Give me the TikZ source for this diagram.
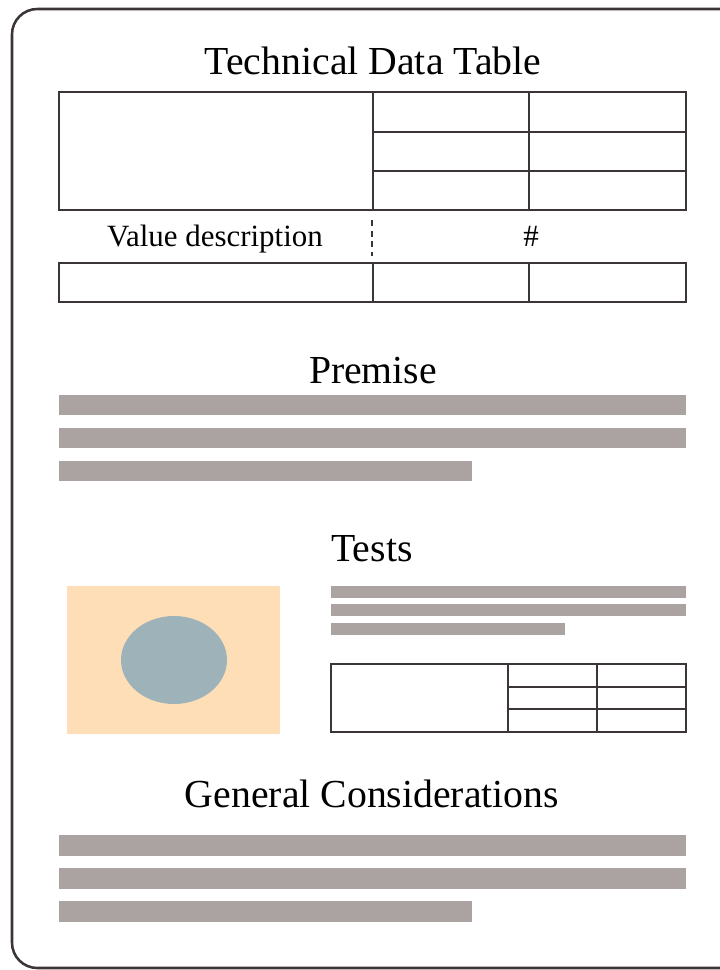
\documentclass[tikz,border=0pt]{standalone}
\usepackage{fontspec}
\setmainfont{Liberation Serif}
\usetikzlibrary{calc}
\definecolor{ccLine}{HTML}{3B3536}
\definecolor{ccBar}{HTML}{ABA3A1}
\definecolor{ccImg}{HTML}{FDDEB6}
\definecolor{ccDot}{HTML}{9EB3B9}

\begin{document}
\begin{tikzpicture}[
  x=0.75pt, y=-0.75pt,
  grid/.style={draw=ccLine, line width=1.9pt},
  bar/.style={fill=ccBar},
  head/.style={font=\fontsize{29.8}{34}\selectfont, anchor=base, inner sep=0pt},
  lbl/.style={font=\fontsize{23.2}{26}\selectfont, anchor=base, inner sep=0pt},
]
\useasboundingbox (0,0) rectangle (720,970);
% page frame (right edge runs off the page)
\draw[ccLine, line width=1.9pt, rounded corners=19pt] (12,9) rectangle (745,968);
% technical data table
\node[head] (ttl) at (373,75) {Technical Data Table};
\draw[grid] (59,92) rectangle (686,210);
\draw[grid] (373,92) -- (373,210) (529,92) -- (529,210)
  (373,132) -- (686,132) (373,171) -- (686,171);
\node[lbl] (vdesc) at (215,246) {Value description};
\node[lbl] (hash) at (531,246) {\#};
\draw[ccLine, line width=1.9pt, dash pattern=on 4.5pt off 3.5pt] (372,220) -- (372,256);
\draw[grid] (59,263) rectangle (686,302);
\draw[grid] (373,263) -- (373,302) (529,263) -- (529,302);
% premise
\node[head] (prem) at (373,383) {Premise};
\foreach \y in {395,428} \fill[bar] (59,\y) rectangle (686,\y+20);
\fill[bar] (59,461) rectangle (472,481);
% tests
\node[head] (tst) at (372,561) {Tests};
\fill[ccImg] (67,586) rectangle (280,734);
\fill[ccDot] (174,660) ellipse [x radius=53, y radius=44];
\foreach \y in {586,604} \fill[bar] (331,\y) rectangle (686,\y+12);
\fill[bar] (331,623) rectangle (565,635);
\draw[grid] (331,664) rectangle (686,732);
\draw[grid] (508,664) -- (508,732) (597,664) -- (597,732)
  (508,687) -- (686,687) (508,709) -- (686,709);
% general considerations
\node[head] (gen) at (372,807) {General Considerations};
\foreach \y in {835,868} \fill[bar] (59,\y) rectangle (686,\y+21);
\fill[bar] (59,901) rectangle (472,922);
\end{tikzpicture}
\end{document}
